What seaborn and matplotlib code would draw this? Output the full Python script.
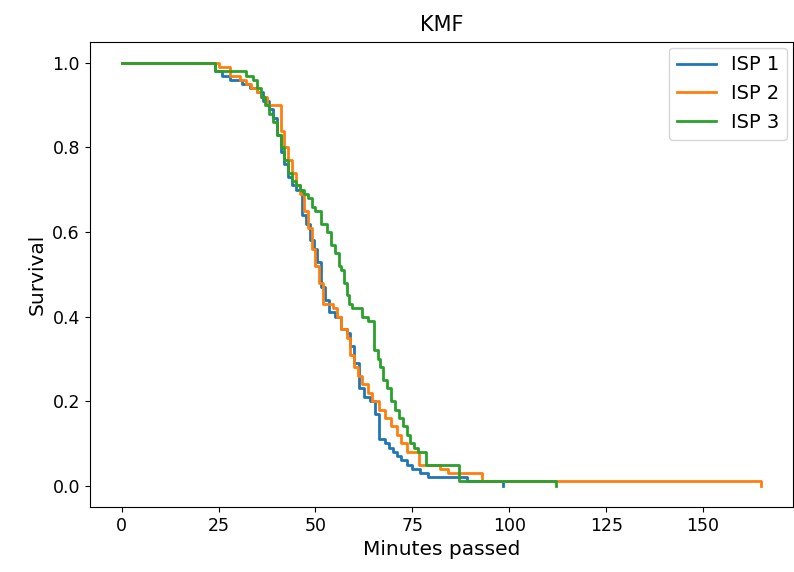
import matplotlib
matplotlib.use("Agg")
import matplotlib.pyplot as plt
import pandas as pd
import seaborn as sns

# Kaplan-Meier style survival steps
isp1_time = [0, 24, 26, 28, 31, 33, 35, 36.5, 38, 39, 40, 41, 42, 43, 44, 45,
             46.5, 47.5, 48.5, 49.5, 50.5, 51.5, 52.5, 53.5, 55, 56.5, 58, 59,
             60, 61.3, 62.5, 64, 65.3, 66.4, 68, 69, 70, 71, 72, 73.5, 75, 77,
             79, 89, 98.3]
isp1_surv = [1.0, 0.98, 0.97, 0.96, 0.95, 0.94, 0.93, 0.91, 0.89, 0.87, 0.83,
             0.79, 0.76, 0.73, 0.71, 0.70, 0.64, 0.62, 0.58, 0.56, 0.53, 0.47,
             0.44, 0.41, 0.40, 0.37, 0.36, 0.33, 0.29, 0.23, 0.21, 0.20, 0.17,
             0.11, 0.10, 0.09, 0.08, 0.07, 0.06, 0.05, 0.04, 0.03, 0.02, 0.01,
             0.0]

isp2_time = [0, 25, 28, 30.5, 32, 33.3, 35, 36, 37.5, 41, 42, 43, 44, 45, 46,
             47, 48, 49, 50, 51, 52, 54.5, 55.5, 56.5, 58, 59, 60, 61, 62,
             63.5, 64.5, 66.4, 68, 69.5, 71, 72, 73.5, 76.6, 82, 84.3, 93, 165]
isp2_surv = [1.0, 0.99, 0.97, 0.96, 0.95, 0.94, 0.93, 0.92, 0.90, 0.84, 0.80,
             0.77, 0.74, 0.71, 0.69, 0.65, 0.61, 0.56, 0.52, 0.48, 0.43, 0.42,
             0.40, 0.37, 0.35, 0.31, 0.28, 0.26, 0.24, 0.22, 0.20, 0.18, 0.16,
             0.14, 0.12, 0.10, 0.08, 0.05, 0.04, 0.03, 0.01, 0.0]

isp3_time = [0, 24, 32, 34, 35, 36, 37, 38, 39, 40, 41, 42, 43, 44, 45, 46,
             47, 48, 49, 50, 51.5, 53, 54, 55, 56, 56.5, 57.3, 58, 58.7,
             59.4, 62, 63.5, 65.2, 66, 66.7, 67.5, 68.5, 69.5, 70.5, 71.5,
             72.5, 73.5, 74.5, 75.5, 76.5, 78.5, 87, 112]
isp3_surv = [1.0, 0.98, 0.97, 0.96, 0.94, 0.92, 0.90, 0.88, 0.86, 0.83, 0.80,
             0.77, 0.74, 0.72, 0.71, 0.70, 0.69, 0.68, 0.66, 0.65, 0.62, 0.60,
             0.57, 0.55, 0.52, 0.51, 0.48, 0.45, 0.43, 0.42, 0.40, 0.39, 0.32,
             0.30, 0.28, 0.25, 0.23, 0.20, 0.18, 0.16, 0.14, 0.12, 0.10, 0.09,
             0.08, 0.05, 0.01, 0.0]

labels = ["ISP 1", "ISP 2", "ISP 3"]

frames = []
for lab, t, s in zip(labels, [isp1_time, isp2_time, isp3_time],
                     [isp1_surv, isp2_surv, isp3_surv]):
    frames.append(pd.DataFrame({"time": t, "surv": s, "ISP": lab}))
df = pd.concat(frames, ignore_index=True)

plt.rcParams['font.size'] = 12.5
fig, ax = plt.subplots(figsize=(7.94, 5.72), dpi=100)
sns.lineplot(data=df, x="time", y="surv", hue="ISP", palette="tab10",
             estimator=None, sort=False, drawstyle="steps-post",
             linewidth=2, ax=ax)

ax.set_title("KMF", fontsize=15, pad=8)
ax.set_xlabel("Minutes passed", fontsize=14.5)
ax.set_ylabel("Survival", fontsize=14.5)
ax.set_yticks([0.0, 0.2, 0.4, 0.6, 0.8, 1.0])
ax.legend(loc="upper right", fontsize=14, borderaxespad=0.3)
fig.subplots_adjust(left=0.113, right=0.999, top=0.927, bottom=0.114)
fig.savefig("out.png")
